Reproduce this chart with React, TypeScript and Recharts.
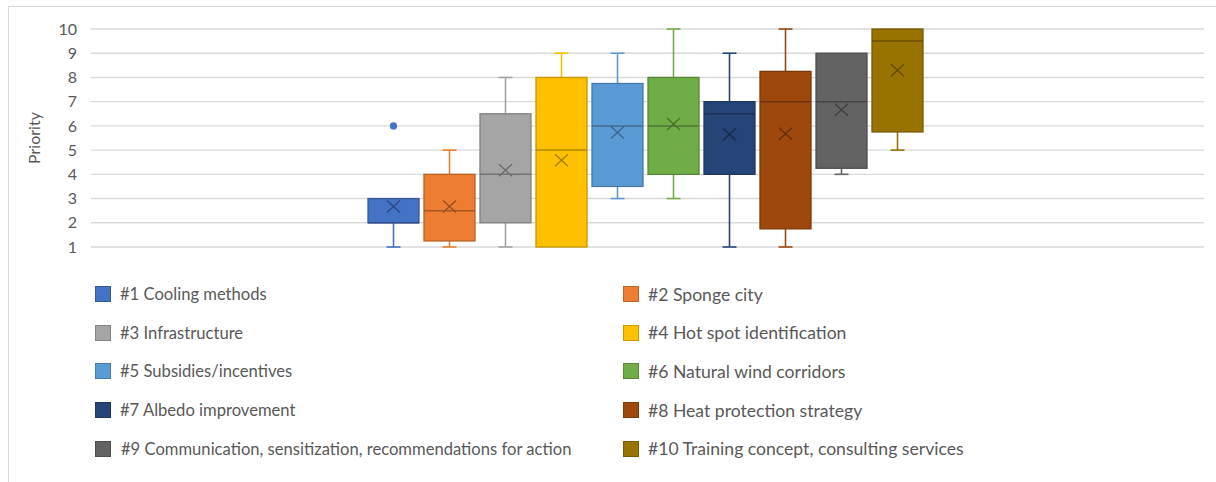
import React from 'react';
import { BarChart, Bar, XAxis, YAxis, CartesianGrid, Legend } from 'recharts';

const seriesNames = [
  '#1 Cooling methods',
  '#2 Sponge city',
  '#3 Infrastructure',
  '#4 Hot spot identification',
  '#5 Subsidies/incentives',
  '#6 Natural wind corridors',
  '#7 Albedo improvement',
  '#8 Heat protection strategy',
  '#9 Communication, sensitization, recommendations for action',
  '#10 Training concept, consulting services',
];
const colors = ['#4472C4', '#ED7D31', '#A5A5A5', '#FFC000', '#5B9BD5', '#70AD47', '#264478', '#9E480E', '#636363', '#997300'];

const minValues = [1, 1, 1, 1, 3, 3, 1, 1, 4, 5];
const q1Values = [2, 1.25, 2, 1, 3.5, 4, 4, 1.75, 4.25, 5.75];
const medianValues = [2, 2.5, 4, 5, 6, 6, 6.5, 7, 7, 9.5];
const q3Values = [3, 4, 6.5, 8, 7.75, 8, 7, 8.25, 9, 10];
const maxValues = [3, 5, 8, 9, 9, 10, 9, 10, 9, 10];
const meanValues = [2.67, 2.67, 4.17, 4.58, 5.73, 6.08, 5.65, 5.68, 6.67, 8.3];
const outlierValues: number[][] = [[6], [], [], [], [], [], [], [], [], []];

const yTicks = [1, 2, 3, 4, 5, 6, 7, 8, 9, 10];
const category = ['Priority'];

const FONT = 'Lato, "Open Sans", sans-serif';
const TEXT = '#595959';

function darken(hex: string, f: number) {
  const n = parseInt(hex.slice(1), 16);
  const r = Math.round(((n >> 16) & 255) * f);
  const g = Math.round(((n >> 8) & 255) * f);
  const b = Math.round((n & 255) * f);
  return `rgb(${r},${g},${b})`;
}

const row: Record<string, any> = { cat: category[0] };
seriesNames.forEach((_, i) => {
  row[`s${i}`] = [q1Values[i], q3Values[i]];
});
const data = [row];

function makeShape(i: number) {
  return (props: any) => {
    const { x, y, width, height } = props;
    if (x == null || y == null) return <g />;
    const top = Math.min(y, y + height);
    const h = Math.abs(height);
    const ppu = h / (q3Values[i] - q1Values[i]);
    const yOf = (v: number) => top + (q3Values[i] - v) * ppu;
    const cx = x + width / 2;
    const cap = 7;
    const c = colors[i];
    const dark = darken(c, 0.78);
    const mx = 6.5;
    const my = 6;
    const yMean = yOf(meanValues[i]);
    return (
      <g>
        {maxValues[i] > q3Values[i] && (
          <g stroke={c} strokeWidth={1.6}>
            <line x1={cx} x2={cx} y1={yOf(maxValues[i])} y2={top} />
            <line x1={cx - cap} x2={cx + cap} y1={yOf(maxValues[i])} y2={yOf(maxValues[i])} />
          </g>
        )}
        {minValues[i] < q1Values[i] && (
          <g stroke={c} strokeWidth={1.6}>
            <line x1={cx} x2={cx} y1={top + h} y2={yOf(minValues[i])} />
            <line x1={cx - cap} x2={cx + cap} y1={yOf(minValues[i])} y2={yOf(minValues[i])} />
          </g>
        )}
        <rect x={x} y={top} width={width} height={h} fill={c} stroke={dark} strokeWidth={1.3} />
        <line x1={x} x2={x + width} y1={yOf(medianValues[i])} y2={yOf(medianValues[i])} stroke={darken(c, 0.7)} strokeWidth={1.5} />
        <g stroke={darken(c, 0.65)} strokeWidth={1.4}>
          <line x1={cx - mx} x2={cx + mx} y1={yMean - my} y2={yMean + my} />
          <line x1={cx - mx} x2={cx + mx} y1={yMean + my} y2={yMean - my} />
        </g>
        {outlierValues[i].map((v, k) => (
          <circle key={k} cx={cx} cy={yOf(v)} r={3.6} fill={c} />
        ))}
      </g>
    );
  };
}

const renderLegend = () => {
  const rows = Math.ceil(seriesNames.length / 2);
  return (
    <div style={{ position: 'relative', width: 1216, height: rows * 38.6, fontFamily: FONT }}>
      {seriesNames.map((name, i) => {
        const col = i % 2;
        const r = Math.floor(i / 2);
        return (
          <div
            key={name}
            style={{
              position: 'absolute',
              left: col === 0 ? 95 : 623,
              top: r * 38.6,
              height: 38.6,
              display: 'flex',
              alignItems: 'center',
              whiteSpace: 'nowrap',
            }}
          >
            <span
              style={{
                display: 'inline-block',
                width: 16,
                height: 16,
                background: colors[i],
                border: `1px solid ${darken(colors[i], 0.8)}`,
                boxSizing: 'border-box',
              }}
            />
            <span style={{ marginLeft: i === 8 ? 10 : 9, fontSize: col === 0 ? 16.6 : 17.6, color: TEXT }}>{name}</span>
          </div>
        );
      })}
    </div>
  );
};

export default function App() {
  return (
    <div style={{ position: 'absolute', left: 0, top: 0, width: 1216, height: 482, background: '#fff' }}>
      <div
        style={{
          position: 'absolute',
          left: 8,
          top: 6,
          width: 1216,
          height: 482,
          borderTop: '1px solid #D9D9D9',
          borderLeft: '1px solid #D9D9D9',
        }}
      />
      <div style={{ position: 'absolute', left: 0, top: 0 }}>
        <BarChart
          width={1216}
          height={482}
          data={data}
          margin={{ top: 29, right: 12, left: 0, bottom: 235 }}
          barSize={51}
          barGap={5}
        >
          <CartesianGrid vertical={false} stroke="#D9D9D9" strokeWidth={1.4} />
          <XAxis dataKey="cat" type="category" hide padding={{ left: 0, right: 4 }} />
          <YAxis
            type="number"
            domain={[1, 10]}
            ticks={yTicks}
            interval={0}
            width={91}
            axisLine={false}
            tickLine={false}
            tickSize={6}
            tickMargin={8}
            tick={{ fill: TEXT, fontSize: 16, fontFamily: FONT }}
            label={{
              content: (p: any) => {
                const vb = p.viewBox || {};
                const lx = (vb.x || 0) + 33;
                const ly = (vb.y || 0) + (vb.height || 0) / 2;
                return (
                  <text
                    x={lx}
                    y={ly}
                    transform={`rotate(-90, ${lx}, ${ly})`}
                    textAnchor="middle"
                    dominantBaseline="central"
                    fill={TEXT}
                    fontSize={16}
                    fontFamily={FONT}
                  >
                    Priority
                  </text>
                );
              },
            }}
          />
          <Legend
            verticalAlign="middle"
            align="center"
            layout="horizontal"
            content={renderLegend}
            wrapperStyle={{ top: 275, left: 0, width: 1216 }}
          />
          {seriesNames.map((name, i) => (
            <Bar
              key={name}
              dataKey={`s${i}`}
              name={name}
              fill={colors[i]}
              shape={makeShape(i)}
              isAnimationActive={false}
            />
          ))}
        </BarChart>
      </div>
    </div>
  );
}
